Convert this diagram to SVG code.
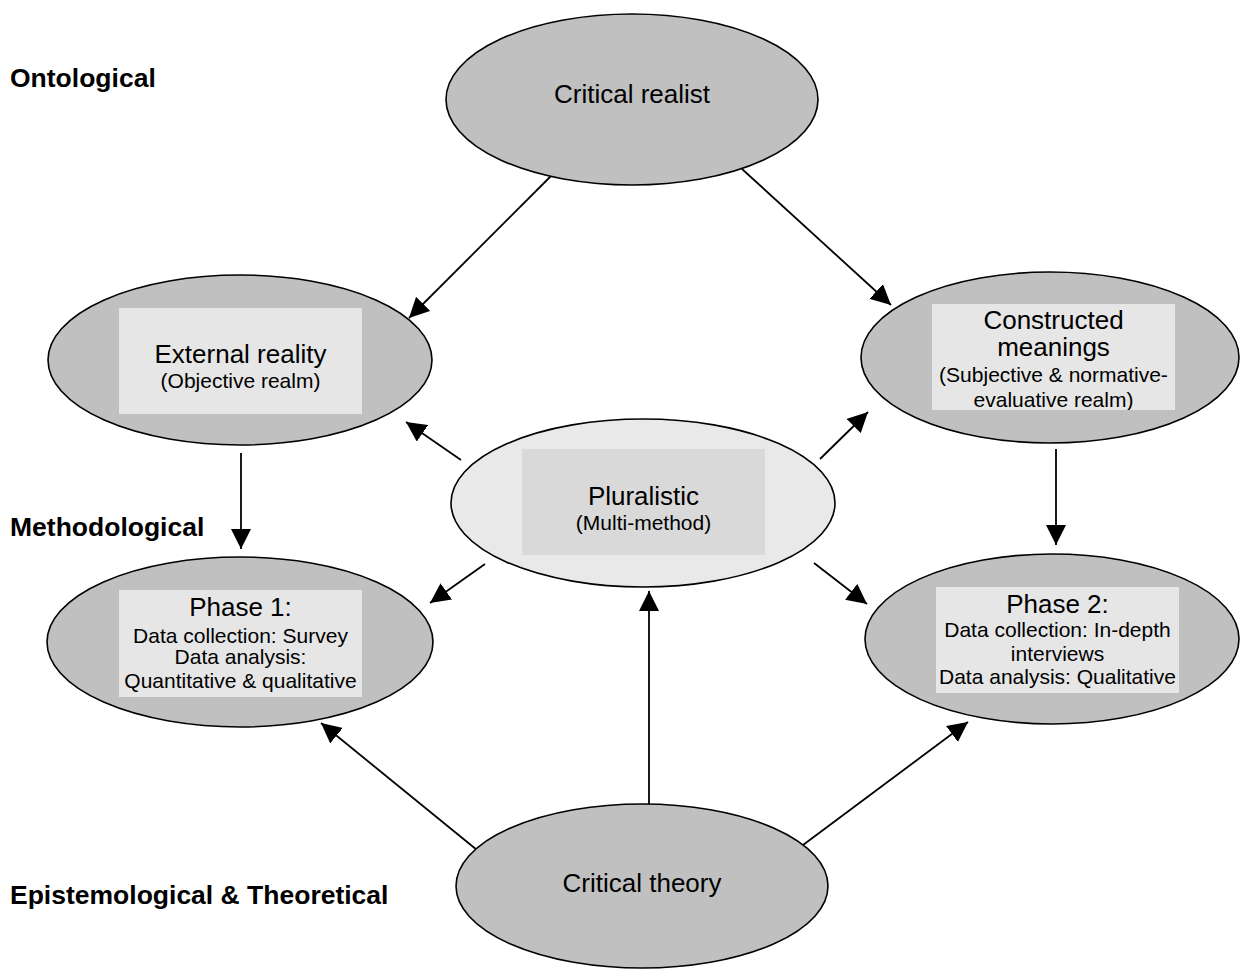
<svg xmlns="http://www.w3.org/2000/svg" width="1240" height="972" viewBox="0 0 1240 972">
<style>
.node{fill:#c0c0c0;stroke:#000;stroke-width:1.6}
.light{fill:#e9e9e9;stroke:#000;stroke-width:1.6}
.box{fill:#e6e6e6}
.box2{fill:#d9d9d9}
text{font-family:"Liberation Sans",Arial,sans-serif;fill:#000;text-anchor:middle}
.t{font-size:26px}
.s{font-size:21px}
.lab{font-size:26.5px;font-weight:bold;text-anchor:start}
.c line{stroke:#000;stroke-width:1.8;marker-end:url(#ah)}
</style>
<defs>
<marker id="ah" markerUnits="userSpaceOnUse" markerWidth="20" markerHeight="20" refX="20" refY="10" orient="auto" viewBox="0 0 20 20">
<path d="M0,0 L20,10 L0,20 z" fill="#000"/>
</marker>
<clipPath id="cmclip"><rect x="932" y="304" width="243" height="106"/></clipPath>
</defs>
<rect width="1240" height="972" fill="#fff"/>

<g id="labels">
<text class="lab" x="10" y="87">Ontological</text>
<text class="lab" x="10" y="536">Methodological</text>
<text class="lab" x="10" y="904">Epistemological &amp; Theoretical</text>
</g>

<g class="c" id="connectors">
<line x1="552" y1="175" x2="409" y2="318"/>
<line x1="742" y1="169" x2="891" y2="305"/>
<line x1="241" y1="453" x2="241" y2="549"/>
<line x1="1056" y1="449" x2="1056" y2="545"/>
<line x1="461" y1="460" x2="406" y2="422"/>
<line x1="820" y1="459" x2="868" y2="412"/>
<line x1="485" y1="564" x2="430" y2="603"/>
<line x1="814" y1="563" x2="867" y2="604"/>
<line x1="649" y1="804" x2="649" y2="591"/>
<line x1="477" y1="850" x2="321" y2="723"/>
<line x1="803" y1="845" x2="968" y2="722"/>
</g>

<g id="critical-realist">
<ellipse class="node" cx="632" cy="99.5" rx="186" ry="85.5"/>
<text class="t" x="632" y="103">Critical realist</text>
</g>

<g id="external-reality">
<ellipse class="node" cx="240" cy="360" rx="192" ry="85"/>
<rect class="box" x="119" y="308" width="243" height="106"/>
<text class="t" x="240.5" y="363">External reality</text>
<text class="s" x="240.5" y="388">(Objective realm)</text>
</g>

<g id="constructed-meanings">
<ellipse class="node" cx="1050" cy="357.5" rx="189" ry="85.5"/>
<rect class="box" x="932" y="304" width="243" height="106"/>
<g clip-path="url(#cmclip)">
<text class="t" x="1053.5" y="329">Constructed</text>
<text class="t" x="1053.5" y="356">meanings</text>
<text class="s" x="1053.5" y="382">(Subjective &amp; normative-</text>
<text class="s" x="1053.5" y="407">evaluative realm)</text>
</g>
</g>

<g id="pluralistic">
<ellipse class="light" cx="643" cy="503" rx="192" ry="84"/>
<rect class="box2" x="522" y="449" width="243" height="106"/>
<text class="t" x="643.5" y="505">Pluralistic</text>
<text class="s" x="643.5" y="530">(Multi-method)</text>
</g>

<g id="phase-1">
<ellipse class="node" cx="240" cy="642" rx="193" ry="85"/>
<rect class="box" x="119" y="590" width="243" height="107"/>
<text class="t" x="240.5" y="616">Phase 1:</text>
<text class="s" x="240.5" y="643">Data collection: Survey</text>
<text class="s" x="240.5" y="664">Data analysis:</text>
<text class="s" x="240.5" y="688">Quantitative &amp; qualitative</text>
</g>

<g id="phase-2">
<ellipse class="node" cx="1052" cy="639" rx="187" ry="85"/>
<rect class="box" x="936" y="587" width="243" height="106"/>
<text class="t" x="1057.5" y="613">Phase 2:</text>
<text class="s" x="1057.5" y="637">Data collection: In-depth</text>
<text class="s" x="1057.5" y="661">interviews</text>
<text class="s" x="1057.5" y="684">Data analysis: Qualitative</text>
</g>

<g id="critical-theory">
<ellipse class="node" cx="642" cy="886" rx="186" ry="82"/>
<text class="t" x="642" y="892">Critical theory</text>
</g>
</svg>
